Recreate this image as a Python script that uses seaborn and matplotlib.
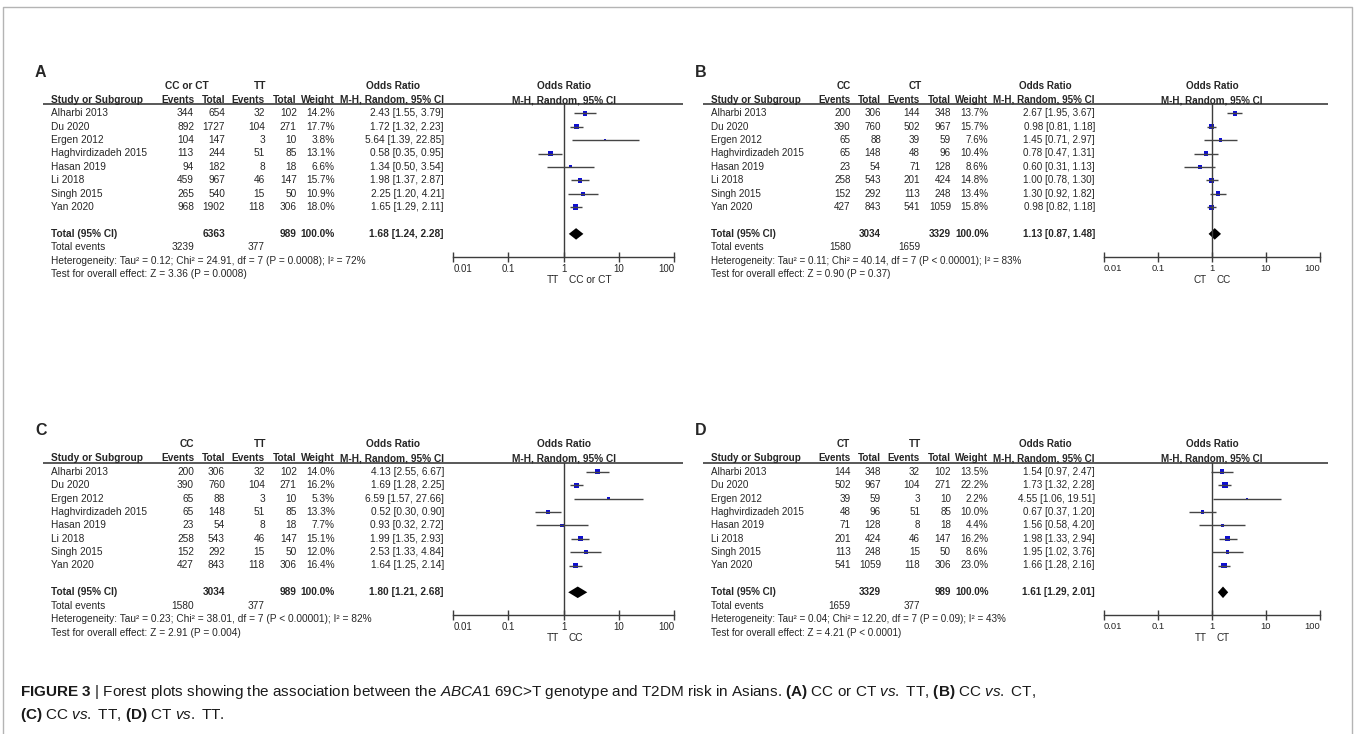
import matplotlib
matplotlib.use("Agg")
import matplotlib.pyplot as plt
import matplotlib.lines as mlines
import seaborn as sns
import pandas as pd

sns.set_theme(style="white")
plt.rcParams['font.family'] = ['Liberation Sans', 'DejaVu Sans']
plt.rcParams['mathtext.fontset'] = 'custom'
plt.rcParams['mathtext.rm'] = 'Liberation Sans'
plt.rcParams['mathtext.it'] = 'Liberation Sans:italic'
plt.rcParams['mathtext.bf'] = 'Liberation Sans:bold'

studies = ["Alharbi 2013", "Du 2020", "Ergen 2012", "Haghvirdizadeh 2015",
           "Hasan 2019", "Li 2018", "Singh 2015", "Yan 2020"]

# panel A: CC or CT vs TT
a_ev1 = [344, 892, 104, 113, 94, 459, 265, 968]
a_tot1 = [654, 1727, 147, 244, 182, 967, 540, 1902]
a_ev2 = [32, 104, 3, 51, 8, 46, 15, 118]
a_tot2 = [102, 271, 10, 85, 18, 147, 50, 306]
a_weight = [14.2, 17.7, 3.8, 13.1, 6.6, 15.7, 10.9, 18.0]
a_or = [2.43, 1.72, 5.64, 0.58, 1.34, 1.98, 2.25, 1.65]
a_lo = [1.55, 1.32, 1.39, 0.35, 0.50, 1.37, 1.20, 1.29]
a_hi = [3.79, 2.23, 22.85, 0.95, 3.54, 2.87, 4.21, 2.11]
a_total = [1.68, 1.24, 2.28]

# panel B: CC vs CT
b_ev1 = [200, 390, 65, 65, 23, 258, 152, 427]
b_tot1 = [306, 760, 88, 148, 54, 543, 292, 843]
b_ev2 = [144, 502, 39, 48, 71, 201, 113, 541]
b_tot2 = [348, 967, 59, 96, 128, 424, 248, 1059]
b_weight = [13.7, 15.7, 7.6, 10.4, 8.6, 14.8, 13.4, 15.8]
b_or = [2.67, 0.98, 1.45, 0.78, 0.60, 1.00, 1.30, 0.98]
b_lo = [1.95, 0.81, 0.71, 0.47, 0.31, 0.78, 0.92, 0.82]
b_hi = [3.67, 1.18, 2.97, 1.31, 1.13, 1.30, 1.82, 1.18]
b_total = [1.13, 0.87, 1.48]

# panel C: CC vs TT
c_ev1 = [200, 390, 65, 65, 23, 258, 152, 427]
c_tot1 = [306, 760, 88, 148, 54, 543, 292, 843]
c_ev2 = [32, 104, 3, 51, 8, 46, 15, 118]
c_tot2 = [102, 271, 10, 85, 18, 147, 50, 306]
c_weight = [14.0, 16.2, 5.3, 13.3, 7.7, 15.1, 12.0, 16.4]
c_or = [4.13, 1.69, 6.59, 0.52, 0.93, 1.99, 2.53, 1.64]
c_lo = [2.55, 1.28, 1.57, 0.30, 0.32, 1.35, 1.33, 1.25]
c_hi = [6.67, 2.25, 27.66, 0.90, 2.72, 2.93, 4.84, 2.14]
c_total = [1.80, 1.21, 2.68]

# panel D: CT vs TT
d_ev1 = [144, 502, 39, 48, 71, 201, 113, 541]
d_tot1 = [348, 967, 59, 96, 128, 424, 248, 1059]
d_ev2 = [32, 104, 3, 51, 8, 46, 15, 118]
d_tot2 = [102, 271, 10, 85, 18, 147, 50, 306]
d_weight = [13.5, 22.2, 2.2, 10.0, 4.4, 16.2, 8.6, 23.0]
d_or = [1.54, 1.73, 4.55, 0.67, 1.56, 1.98, 1.95, 1.66]
d_lo = [0.97, 1.32, 1.06, 0.37, 0.58, 1.33, 1.02, 1.28]
d_hi = [2.47, 2.28, 19.51, 1.20, 4.20, 2.94, 3.76, 2.16]
d_total = [1.61, 1.29, 2.01]

groups = {"A": ("CC or CT", "TT"), "B": ("CC", "CT"), "C": ("CC", "TT"), "D": ("CT", "TT")}
favours = {"A": ("TT", "CC or CT"), "B": ("CT", "CC"), "C": ("TT", "CC"), "D": ("TT", "CT")}
heterogeneity = {
    "A": "Heterogeneity: Tau² = 0.12; Chi² = 24.91, df = 7 (P = 0.0008); I² = 72%",
    "B": "Heterogeneity: Tau² = 0.11; Chi² = 40.14, df = 7 (P < 0.00001); I² = 83%",
    "C": "Heterogeneity: Tau² = 0.23; Chi² = 38.01, df = 7 (P < 0.00001); I² = 82%",
    "D": "Heterogeneity: Tau² = 0.04; Chi² = 12.20, df = 7 (P = 0.09); I² = 43%",
}
overall = {
    "A": "Test for overall effect: Z = 3.36 (P = 0.0008)",
    "B": "Test for overall effect: Z = 0.90 (P = 0.37)",
    "C": "Test for overall effect: Z = 2.91 (P = 0.004)",
    "D": "Test for overall effect: Z = 4.21 (P < 0.0001)",
}

W, H = 1356, 734
ROW = 13.4
fig = plt.figure(figsize=(W / 100, H / 100), dpi=100)
LINE = '#3c3c3c'


def fx(x):
    return x / W


def fy(y):
    return 1 - y / H


def forest_panel(letter, x0, y0, s, ev1, tot1, ev2, tot2, weight, orr, lo, hi, total):
    fs = 7.3 * s
    # table part: x in panel pixels, y in rows
    l_rel, r_rel, t_row, b_row = -20, 640, -4, 13
    ax = fig.add_axes([fx(x0 + l_rel * s), fy(y0 + b_row * ROW),
                       (r_rel - l_rel) * s / W, (b_row - t_row) * ROW / H])
    ax.set_xlim(l_rel, r_rel)
    ax.set_ylim(b_row, t_row)
    ax.axis('off')

    cols = [143.3, 174.3, 214.3, 246, 284.3, 393.3]
    ax.text(-15.7, -3.08, letter, fontsize=11.5, fontweight='bold', ha='left', va='center')
    g1, g2 = groups[letter]
    ax.text(136, -2.04, g1, fontsize=fs, fontweight='bold', ha='center', va='center')
    ax.text(209, -2.04, g2, fontsize=fs, fontweight='bold', ha='center', va='center')
    ax.text(342, -2.04, "Odds Ratio", fontsize=fs, fontweight='bold', ha='center', va='center')
    ax.text(0, -1.0, "Study or Subgroup", fontsize=fs, fontweight='bold', ha='left', va='center')
    for c, h in zip(cols, ["Events", "Total", "Events", "Total", "Weight", "M-H, Random, 95% CI"]):
        ax.text(c, -1.0, h, fontsize=fs, fontweight='bold', ha='right', va='center')
    ax.hlines(-0.66, -8, 632, color=LINE, lw=1.2)

    for i, name in enumerate(studies):
        vals = [ev1[i], tot1[i], ev2[i], tot2[i], f"{weight[i]:.1f}%",
                f"{orr[i]:.2f} [{lo[i]:.2f}, {hi[i]:.2f}]"]
        ax.text(0, i, name, fontsize=fs, ha='left', va='center')
        for c, v in zip(cols, vals):
            ax.text(c, i, str(v), fontsize=fs, ha='right', va='center')

    ax.text(0, 9, "Total (95% CI)", fontsize=fs, fontweight='bold', ha='left', va='center')
    tot_vals = [sum(tot1), sum(tot2), "100.0%", f"{total[0]:.2f} [{total[1]:.2f}, {total[2]:.2f}]"]
    for c, v in zip([cols[1], cols[3], cols[4], cols[5]], tot_vals):
        ax.text(c, 9, str(v), fontsize=fs, fontweight='bold', ha='right', va='center')
    ax.text(0, 10, "Total events", fontsize=fs, ha='left', va='center')
    ax.text(cols[0], 10, str(sum(ev1)), fontsize=fs, ha='right', va='center')
    ax.text(cols[2], 10, str(sum(ev2)), fontsize=fs, ha='right', va='center')
    ax.text(0, 11, heterogeneity[letter], fontsize=fs, ha='left', va='center')
    ax.text(0, 12, overall[letter], fontsize=fs, ha='left', va='center')

    # forest part, log scale
    top_row, axis_row = -0.66, 10.69
    fax = fig.add_axes([fx(x0 + 402.6 * s), fy(y0 + axis_row * ROW),
                        220.7 * s / W, (axis_row - top_row) * ROW / H])
    fax.set_facecolor('none')
    fax.set_xscale('log')
    fax.set_xlim(0.01, 100)
    fax.set_ylim(axis_row, top_row)
    df = pd.DataFrame({'row': range(len(studies)), 'or': orr, 'lo': lo, 'hi': hi, 'w': weight})
    fax.axvline(1, color=LINE, lw=1.0)
    fax.hlines(df['row'], df['lo'], df['hi'], color='#454545', lw=1.0, clip_on=False)
    sns.scatterplot(data=df, x='or', y='row', size='w', sizes=(0, 80), size_norm=(0, 100),
                    marker='s', color='#0f0fd0', linewidth=0, legend=False, ax=fax, clip_on=False)
    fax.fill([total[1], total[0], total[2], total[0]], [9, 9 - 0.43, 9, 9 + 0.43],
             color='black', lw=0)
    for side in ['top', 'left', 'right']:
        fax.spines[side].set_visible(False)
    fax.spines['bottom'].set_color(LINE)
    fax.spines['bottom'].set_linewidth(1.0)
    fax.set_yticks([])
    fax.set_xticks([0.01, 0.1, 1, 10, 100])
    fax.set_xticklabels(['0.01', '0.1', '1', '10', '100'])
    fax.minorticks_off()
    fax.tick_params(axis='x', bottom=True, direction='inout', length=7, width=1.0,
                    color=LINE, labelsize=7.0 * s, pad=1.8)
    labs = fax.get_xticklabels()
    labs[0].set_ha('left')
    labs[-1].set_ha('right')
    fax.set_xlabel('')
    fax.set_ylabel('')
    fax.annotate("Odds Ratio", xy=(1, 1), xycoords=('data', 'axes fraction'),
                 xytext=(0, 13.3), textcoords='offset points', ha='center', va='center',
                 fontsize=fs, fontweight='bold')
    fax.annotate("M-H, Random, 95% CI", xy=(1, 1), xycoords=('data', 'axes fraction'),
                 xytext=(0, 3.2), textcoords='offset points', ha='center', va='center',
                 fontsize=fs, fontweight='bold')
    left_lab, right_lab = favours[letter]
    fax.annotate(left_lab, xy=(1, 0), xycoords=('data', 'axes fraction'),
                 xytext=(-3.6, -16.8), textcoords='offset points', ha='right', va='center',
                 fontsize=fs)
    fax.annotate(right_lab, xy=(1, 0), xycoords=('data', 'axes fraction'),
                 xytext=(3.6, -16.8), textcoords='offset points', ha='left', va='center',
                 fontsize=fs)


forest_panel("A", 50.7, 113.3, 1.0, a_ev1, a_tot1, a_ev2, a_tot2, a_weight, a_or, a_lo, a_hi, a_total)
forest_panel("B", 710.7, 113.3, 0.977, b_ev1, b_tot1, b_ev2, b_tot2, b_weight, b_or, b_lo, b_hi, b_total)
forest_panel("C", 50.7, 471.7, 1.0, c_ev1, c_tot1, c_ev2, c_tot2, c_weight, c_or, c_lo, c_hi, c_total)
forest_panel("D", 710.7, 471.7, 0.977, d_ev1, d_tot1, d_ev2, d_tot2, d_weight, d_or, d_lo, d_hi, d_total)

# frame around the figure (open at the bottom edge)
frame_x = [fx(3), fx(3), fx(1352), fx(1352)]
frame_y = [0, fy(6.5), fy(6.5), 0]
fig.lines.append(mlines.Line2D(frame_x, frame_y, transform=fig.transFigure,
                               color='#b4b4b4', lw=1.0))

cap1 = (r"$\mathbf{FIGURE\ 3}$ | Forest plots showing the association between the $\mathit{ABCA1}$ "
        r"69C>T genotype and T2DM risk in Asians. $\mathbf{(A)}$ CC or CT $\mathit{vs.}$ TT, "
        r"$\mathbf{(B)}$ CC $\mathit{vs.}$ CT,")
cap2 = r"$\mathbf{(C)}$ CC $\mathit{vs.}$ TT, $\mathbf{(D)}$ CT $\mathit{vs.}$ TT."
fig.text(fx(20), fy(692), cap1, fontsize=11, ha='left', va='center', color='#1a1a1a')
fig.text(fx(20), fy(715), cap2, fontsize=11, ha='left', va='center', color='#1a1a1a')

fig.savefig("out.png", dpi=100)
